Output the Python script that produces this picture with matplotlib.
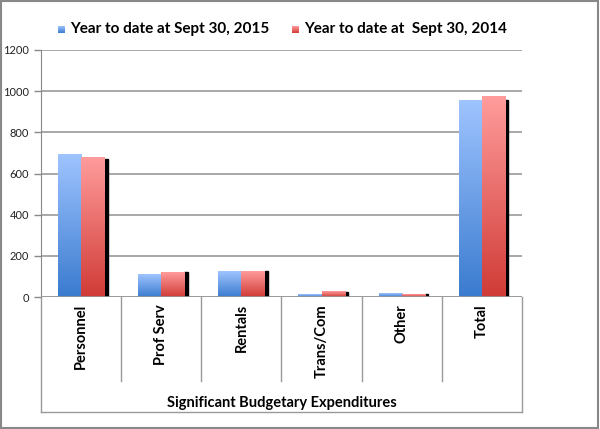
import numpy as np
import matplotlib.pyplot as plt
from matplotlib.colors import LinearSegmentedColormap
from matplotlib.patches import Rectangle

categories = ['Personnel', 'Prof Serv', 'Rentals', 'Trans/Com', 'Other', 'Total']
ytd_2015 = [690, 107, 126, 10, 18, 956]
ytd_2014 = [680, 121, 126, 26, 13, 973]
series_names = ['Year to date at Sept 30, 2015', 'Year to date at  Sept 30, 2014']
yticks = [0, 200, 400, 600, 800, 1000, 1200]

plt.rcParams['font.family'] = ['Lato', 'DejaVu Sans']

blue_cmap = LinearSegmentedColormap.from_list('b', ['#3a7bcf', '#9fc4ff'])
red_cmap = LinearSegmentedColormap.from_list('r', ['#d03b36', '#ff9c9c'])

fig = plt.figure(figsize=(6, 4.29), dpi=100)
ax = fig.add_axes([41 / 600, 132 / 429, 481 / 600, 247 / 429])

grad = np.linspace(0, 1, 256).reshape(-1, 1)
bw = 0.29
x = np.arange(len(categories))
for i in range(len(categories)):
    for vals, cmap, off in [(ytd_2015, blue_cmap, -bw), (ytd_2014, red_cmap, 0)]:
        x0 = x[i] + off
        h = vals[i]
        ax.imshow(grad, cmap=cmap, origin='lower', aspect='auto',
                  extent=(x0, x0 + bw, 0, h), zorder=3)
    # shadow to the right of the red bar
    ax.add_patch(Rectangle((x[i] + bw, 0), 0.04, ytd_2014[i] * 0.985,
                           color='black', zorder=2.5))

ax.set_xlim(-0.5, len(categories) - 0.5)
ax.set_ylim(0, 1200)
ax.set_yticks(yticks)
ax.set_yticklabels([str(v) for v in yticks], fontsize=8, color='#222222')
ax.tick_params(axis='y', length=5, color='#888888', width=1)
ax.set_xticks([])
ax.grid(axis='y', color='#999999', linewidth=1.2, zorder=0)
for s in ['top', 'right', 'bottom']:
    ax.spines[s].set_visible(False)
ax.spines['left'].set_color('#888888')

# category boxes under the axis
lc = '#999999'
ax.axhline(0, color=lc, linewidth=1.2, zorder=4)
for b in np.arange(len(categories) + 1) - 0.5:
    low = -560 if b in (-0.5, len(categories) - 0.5) else -410
    ax.plot([b, b], [0, low], color=lc, linewidth=1, clip_on=False)
ax.plot([-0.5, len(categories) - 0.5], [-560, -560], color=lc, linewidth=1, clip_on=False)

for i, c in enumerate(categories):
    ax.text(x[i], -35, c, rotation=90, ha='center', va='top',
            fontsize=10.5, fontweight='bold')
ax.text((len(categories) - 1) / 2, -515, 'Significant Budgetary Expenditures',
        ha='center', va='center', fontsize=10.5, fontweight='bold')

# legend
for xm, cmap, name in [(58, blue_cmap, series_names[0]), (292, red_cmap, series_names[1])]:
    lax = fig.add_axes([xm / 600, (429 - 33) / 429, 7 / 600, 7 / 429])
    lax.imshow(grad, cmap=cmap, origin='lower', aspect='auto')
    lax.axis('off')
    fig.text((xm + 12) / 600, (429 - 29) / 429, name, ha='left', va='center',
             fontsize=11, fontweight='bold')

fig.patches.append(Rectangle((0.002, 0.003), 0.994, 0.994, transform=fig.transFigure,
                             fill=False, edgecolor='#888888', linewidth=1.5))

fig.savefig('out.png', dpi=100)
